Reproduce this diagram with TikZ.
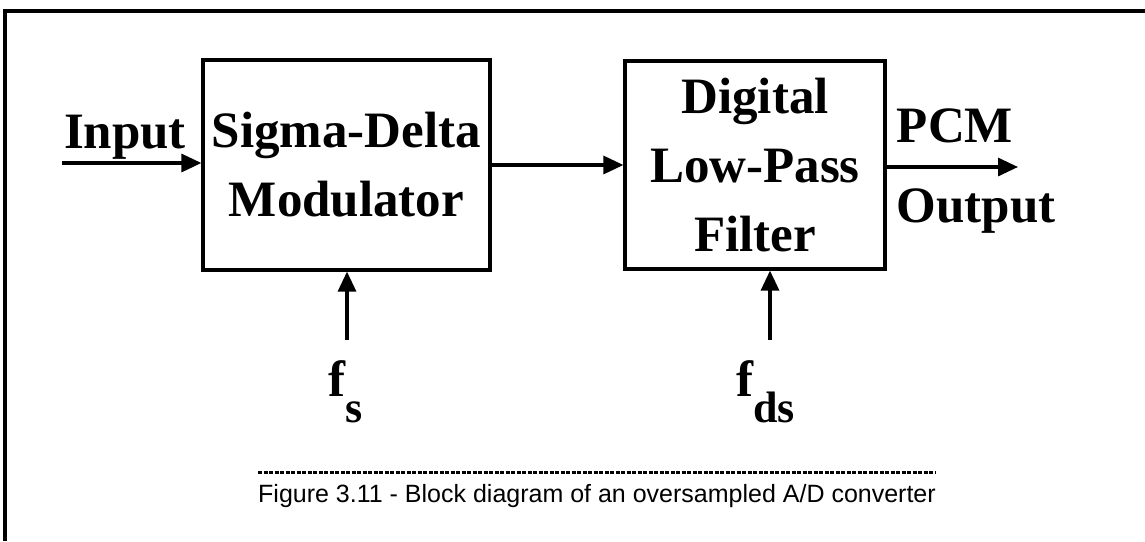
\documentclass[tikz,border=0pt]{standalone}
\usepackage{fontspec}
\setmainfont{Liberation Serif}
\setsansfont{Liberation Sans}
\usetikzlibrary{arrows.meta,positioning}

\begin{document}
\begin{tikzpicture}[x=1pt, y=-1pt,
	every node/.style={font=\bfseries\fontsize{51}{69}\selectfont, inner sep=0pt},
	block/.style={rectangle, draw, line width=3.2pt, align=center},
	signal/.style={-{Triangle[length=20pt,width=18pt]}, line width=3.2pt},
	sigtext/.style={anchor=base},
	caption/.style={anchor=base, font=\sffamily\fontsize{25}{28}\selectfont}
	]

\useasboundingbox (0,0) rectangle (1145,541);

% Frame (only top and left edges show)
\draw[line width=3.2pt] (1145,11) -- (5,11) -- (5,541);

% Blocks
\node [block, minimum width=287pt, minimum height=210pt] (sdm) at (346.5,165) {Sigma-Delta\\Modulator};
\node [block, minimum width=260pt, minimum height=208pt] (lpf) at (755,165) {Digital\\Low-Pass\\Filter};

% Input
\coordinate (in) at (62,163);
\node [sigtext] (intext) at (125,148) {Input};
\draw[signal] (in) -- (in -| sdm.west);

% Between blocks
\draw[signal] (sdm.east) -- (lpf.west);

% PCM output
\coordinate (out) at (1018,167);
\node [sigtext] (pcmtext) at (955,142) {PCM};
\node [sigtext] (outtext) at (976,222) {Output};
\draw[signal] (out -| lpf.east) -- (out);

% Clocks
\coordinate (fsclk) at (347,340);
\coordinate (fdsclk) at (770,340);
\draw[signal] (fsclk) -- (fsclk |- sdm.south);
\draw[signal] (fdsclk) -- (fdsclk |- lpf.south);
\node [anchor=base west] (fs) at (328,396) {f\raisebox{-26pt}{\fontsize{44}{44}\selectfont s}};
\node [anchor=base west] (fds) at (736,396) {f\raisebox{-26pt}{\fontsize{44}{44}\selectfont ds}};

% Caption
\draw[line width=3pt, dash pattern=on 4pt off 1.5pt] (258,472) -- (936,472);
\node [caption] (figcap) at (597,502) {Figure 3.11 - Block diagram of an oversampled A/D converter};

\end{tikzpicture}
\end{document}
